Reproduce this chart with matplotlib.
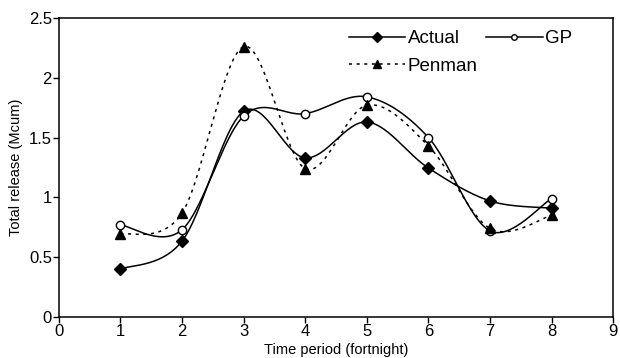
import numpy as np
import matplotlib
matplotlib.use('Agg')
import matplotlib.pyplot as plt
from matplotlib.lines import Line2D

plt.rcParams['font.family'] = ['Liberation Sans', 'DejaVu Sans']

period = [1, 2, 3, 4, 5, 6, 7, 8]
actual = [0.40, 0.635, 1.72, 1.33, 1.63, 1.245, 0.97, 0.91]
gp = [0.77, 0.73, 1.68, 1.70, 1.84, 1.50, 0.72, 0.99]
penman = [0.69, 0.87, 2.26, 1.24, 1.77, 1.43, 0.74, 0.85]


def smooth( x, y, n = 30 ):
    # catmull-rom style bezier through the points, like a spreadsheet "smoothed line"
    x = np.asarray( x, float )
    y = np.asarray( y, float )
    px = np.concatenate( ( [x[0]], x, [x[-1]] ) )
    py = np.concatenate( ( [y[0]], y, [y[-1]] ) )
    xs, ys = [], []
    t = np.linspace( 0, 1, n )
    for i in range( 1, len( px ) - 2 ):
        p0 = np.array( [px[i], py[i]] )
        p3 = np.array( [px[i+1], py[i+1]] )
        c1 = p0 + ( np.array( [px[i+1], py[i+1]] ) - np.array( [px[i-1], py[i-1]] ) ) / 6.
        c2 = p3 - ( np.array( [px[i+2], py[i+2]] ) - np.array( [px[i], py[i]] ) ) / 6.
        b = ( (1-t)**3 )[:, None] * p0 + ( 3*(1-t)**2*t )[:, None] * c1 + ( 3*(1-t)*t**2 )[:, None] * c2 + ( t**3 )[:, None] * p3
        xs.extend( b[:, 0] )
        ys.extend( b[:, 1] )
    return np.array( xs ), np.array( ys )


fig = plt.figure( figsize = ( 6.2, 3.58 ), dpi = 100 )
ax = fig.add_axes( [0.095, 0.1145, 0.894, 0.8355] )

sx, sy = smooth( period, actual )
ax.plot( sx, sy, color = 'black', linewidth = 1.1 )
ax.plot( period, actual, linestyle = 'none', marker = 'D', markersize = 6, color = 'black' )

sx, sy = smooth( period, gp )
ax.plot( sx, sy, color = 'black', linewidth = 1.1 )
ax.plot( period, gp, linestyle = 'none', marker = 'o', markersize = 6, markerfacecolor = 'white', markeredgecolor = 'black', markeredgewidth = 1.0 )

sx, sy = smooth( period, penman )
ax.plot( sx, sy, color = 'black', linewidth = 1.1, linestyle = (0, (2, 3)) )
ax.plot( period, penman, linestyle = 'none', marker = '^', markersize = 7, color = 'black' )

ax.set_xlim( 0, 9 )
ax.set_ylim( 0, 2.5 )
ax.set_xticks( range( 0, 10 ) )
ax.set_yticks( [0, 0.5, 1, 1.5, 2, 2.5] )
ax.set_yticklabels( ['0', '0.5', '1', '1.5', '2', '2.5'] )
ax.tick_params( direction = 'out', length = 4, width = 1, labelsize = 12, pad = 1 )
for s in ax.spines.values():
    s.set_linewidth( 1.1 )

ax.set_xlabel( 'Time period (fortnight)', fontsize = 10.5, labelpad = 3 )
ax.set_ylabel( 'Total release (Mcum)', fontsize = 10.5, labelpad = 4 )

handles = [
    Line2D( [], [], color = 'black', linewidth = 1.1, marker = 'D', markersize = 5 ),
    Line2D( [], [], color = 'black', linewidth = 1.1, linestyle = (0, (2, 3)), marker = '^', markersize = 6 ),
    Line2D( [], [], color = 'black', linewidth = 1.1, marker = 'o', markersize = 4, markerfacecolor = 'white' ),
]
ax.legend( handles, ['Actual', 'Penman', 'GP'], ncol = 2, frameon = False, fontsize = 13.5,
           handlelength = 3.0, handletextpad = 0.15, columnspacing = 0.45, labelspacing = 0.55,
           loc = 'upper right', bbox_to_anchor = ( 0.957, 1.015 ) )

fig.savefig( 'out.png', dpi = 100 )
plt.close( fig )
